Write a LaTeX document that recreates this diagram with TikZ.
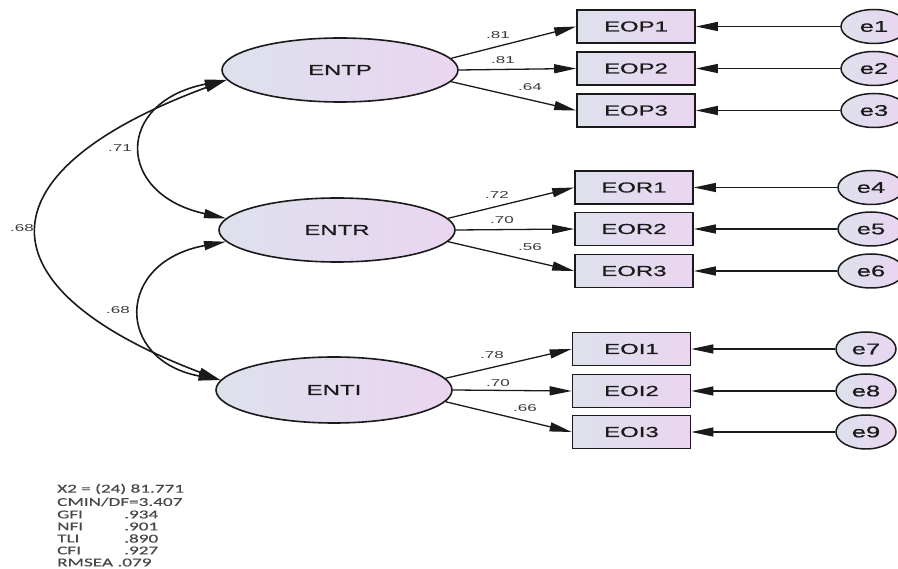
\documentclass[tikz,border=0pt]{standalone}
\usepackage{fontspec}
\setmainfont{Liberation Sans}[FakeStretch=1.7]
\newfontfamily\labelfont{Liberation Sans}[FakeStretch=1.65, FakeBold=0.6]
\newfontfamily\statfont{Carlito}[FakeStretch=1.6, FakeBold=0.4]
\usetikzlibrary{shapes.geometric,arrows.meta}

\definecolor{shadeL}{HTML}{DDE1EC}
\definecolor{shadeR}{HTML}{EAD5F1}
\definecolor{inkc}{HTML}{1A1A1A}

\tikzset{
  latent/.style={ellipse, draw=inkc, line width=1.6pt, left color=shadeL, right color=shadeR,
    minimum width=236pt, minimum height=64pt, inner sep=0pt,
    font=\labelfont\fontsize{14.5}{16}\selectfont, text=inkc},
  observed/.style={rectangle, draw=inkc, line width=1.6pt, left color=shadeL, right color=shadeR,
    minimum width=118pt, minimum height=33pt, inner sep=0pt,
    font=\labelfont\fontsize{14.5}{16}\selectfont, text=inkc},
  errterm/.style={ellipse, draw=inkc, line width=1.5pt, left color=shadeL, right color=shadeR,
    minimum width=66pt, minimum height=34pt, inner sep=0pt,
    font=\labelfont\fontsize{15.5}{17}\selectfont, text=inkc},
  tip/.tip={Triangle[length=22pt,width=9pt]},
  loading/.style={draw=inkc, line width=1.3pt, -tip},
  covar/.style={draw=inkc, line width=1.6pt, tip-tip},
  coef/.style={inner sep=0pt, font=\fontsize{10}{11}\selectfont, text=inkc!85},
  fitline/.style={inner sep=0pt, anchor=west, font=\statfont\fontsize{12}{13}\selectfont, text=inkc!80}
}

\begin{document}
\begin{tikzpicture}[x=1pt, y=-1pt]
  \fill[white] (0,0) rectangle (898,569);
  \useasboundingbox (0,0) rectangle (898,569);

  % latent factors
  \node[latent] (ENTP) at (340,70)  {ENTP};
  \node[latent] (ENTR) at (337,230) {ENTR};
  \node[latent, minimum height=66pt] (ENTI) at (334,390) {ENTI};

  % indicators
  \node[observed] (EOP1) at (636,26.5)  {EOP1};
  \node[observed] (EOP2) at (636,68.5)  {EOP2};
  \node[observed] (EOP3) at (636,110.5) {EOP3};
  \node[observed] (EOR1) at (634,187.5) {EOR1};
  \node[observed] (EOR2) at (634,229)   {EOR2};
  \node[observed] (EOR3) at (634,271)   {EOR3};
  \node[observed] (EOI1) at (631.5,349) {EOI1};
  \node[observed] (EOI2) at (631.5,391) {EOI2};
  \node[observed] (EOI3) at (631.5,432) {EOI3};

  % error terms
  \node[errterm] (e1) at (874,26.5)  {e1};
  \node[errterm] (e2) at (874,68.5)  {e2};
  \node[errterm] (e3) at (874,110.5) {e3};
  \node[errterm] (e4) at (871,187.5) {e4};
  \node[errterm] (e5) at (871,229)   {e5};
  \node[errterm] (e6) at (871,271)   {e6};
  \node[errterm, minimum width=60pt] (e7) at (866,349) {e7};
  \node[errterm, minimum width=60pt] (e8) at (866,391) {e8};
  \node[errterm, minimum width=60pt] (e9) at (866,432) {e9};

  % factor loadings
  \draw[loading] (ENTP.6)  -- (EOP1.west);
  \draw[loading] (ENTP.0)  -- (EOP2.west);
  \draw[loading] (ENTP.-6) -- (EOP3.west);
  \draw[loading] (ENTR.6)  -- (EOR1.west);
  \draw[loading] (ENTR.0)  -- (EOR2.west);
  \draw[loading] (ENTR.-6) -- (EOR3.west);
  \draw[loading] (ENTI.6)  -- (EOI1.west);
  \draw[loading] (ENTI.0)  -- (EOI2.west);
  \draw[loading] (ENTI.-6) -- (EOI3.west);

  % error paths
  \foreach \e/\v in {e1/EOP1,e2/EOP2,e3/EOP3,e4/EOR1,e5/EOR2,e6/EOR3,e7/EOI1,e8/EOI2,e9/EOI3}
    \draw[loading] (\e.west) -- (\v.east);

  % correlations between factors
  \draw[covar] (ENTP.185) .. controls (115,102) and (115,194) .. (ENTR.174);
  \draw[covar] (ENTR.186) .. controls (115,262) and (115,360) .. (ENTI.175);
  \draw[covar] (ENTP.185) .. controls (-22,172) and (-22,288) .. (ENTI.175);

  % coefficients
  \node[coef] (cP1) at (498,35)  {.81};
  \node[coef] (cP2) at (503,60)  {.81};
  \node[coef] (cP3) at (530,87)  {.64};
  \node[coef] (cR1) at (497,195) {.72};
  \node[coef] (cR2) at (502,220) {.70};
  \node[coef] (cR3) at (530,247) {.56};
  \node[coef] (cI1) at (492,355) {.78};
  \node[coef] (cI2) at (498,383) {.70};
  \node[coef] (cI3) at (525,408) {.66};
  \node[coef] (rPR) at (120,148) {.71};
  \node[coef] (rPI) at (22,228)  {.68};
  \node[coef] (rRI) at (118,310) {.68};

  % fit indices
  \node[fitline] (fit1) at (57,489)   {X2 = (24) 81.771};
  \node[fitline] (fit2) at (57,502)   {CMIN/DF=3.407};
  \node[fitline] (fit3) at (57,514.5) {GFI};
  \node[fitline] (fit3v) at (124,514.5) {.934};
  \node[fitline] (fit4) at (57,526.5) {NFI};
  \node[fitline] (fit4v) at (124,526.5) {.901};
  \node[fitline] (fit5) at (57,538.5) {TLI};
  \node[fitline] (fit5v) at (124,538.5) {.890};
  \node[fitline] (fit6) at (57,550.5) {CFI};
  \node[fitline] (fit6v) at (124,550.5) {.927};
  \node[fitline] (fit7) at (57,562.5) {RMSEA .079};
\end{tikzpicture}
\end{document}
